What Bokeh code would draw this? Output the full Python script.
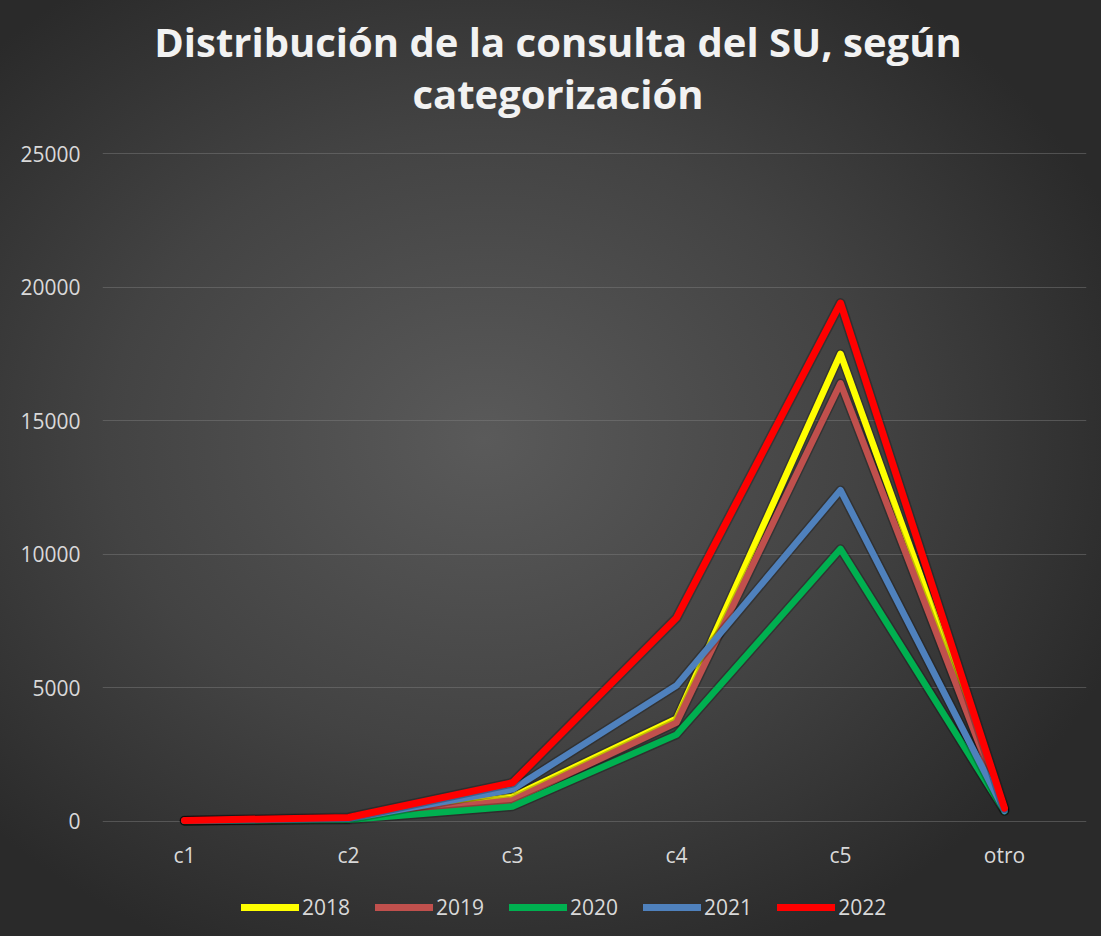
from bokeh.plotting import figure
from bokeh.layouts import column
from bokeh.models import Range1d, FactorRange, Legend, LegendItem, FixedTicker
from bokeh.core.properties import value
from bokeh.embed import file_html
from bokeh.resources import INLINE

categories = ["c1", "c2", "c3", "c4", "c5", "otro"]
years = ["2018", "2019", "2020", "2021", "2022"]
v2018 = [30, 110, 930, 3850, 17500, 450]
v2019 = [25, 100, 790, 3700, 16400, 420]
v2020 = [20, 60, 560, 3250, 10200, 380]
v2021 = [25, 100, 1200, 5090, 12400, 400]
v2022 = [40, 150, 1450, 7620, 19400, 500]
series = [v2018, v2019, v2020, v2021, v2022]
colors = ["#FFFF00", "#C0504D", "#00B050", "#4F81BD", "#FF0000"]
widths = [6.5, 6.5, 6.5, 6.5, 7]
y_ticks = [0, 5000, 10000, 15000, 20000, 25000]
title_lines = ["Distribución de la consulta del SU, según", "categorización"]

FONT = "Open Sans"
LABEL = "#d9d9d9"
W = 1101
BL, BR = 102, 15          # shared left / right borders so frames line up
FW = W - BL - BR
H_TITLE = 126
H_MAIN = 746
H_LEG = 64


def bare(fig):
    fig.title = None
    fig.background_fill_alpha = 0
    fig.border_fill_alpha = 0
    fig.outline_line_color = None
    fig.grid.visible = False


# ---- title strip ----
tf = figure(width=W, height=H_TITLE, output_backend="svg", toolbar_location=None,
            x_range=Range1d(0, FW), y_range=Range1d(H_TITLE, 0),
            x_axis_type=None, y_axis_type=None,
            min_border_left=BL, min_border_right=BR, min_border_top=0, min_border_bottom=0)
bare(tf)
tf.text(x=[557.5 - BL, 557.5 - BL], y=[41, 93], text=title_lines, text_align="center",
        text_baseline="alphabetic", text_font=value(FONT), text_font_style="bold",
        text_font_size="40px", text_color="#f2f2f2")

# ---- main chart ----
p = figure(width=W, height=H_MAIN, output_backend="svg", toolbar_location=None,
           x_range=FactorRange(*categories, range_padding=0),
           y_range=Range1d(-600, 25300),
           min_border_left=BL, min_border_right=BR, min_border_top=19, min_border_bottom=35)
p.title = None
p.background_fill_alpha = 0
p.border_fill_alpha = 0
p.outline_line_color = None

p.xgrid.grid_line_color = None
p.ygrid.grid_line_color = "#808080"
p.ygrid.grid_line_alpha = 0.45
p.ygrid.grid_line_width = 1

p.yaxis.ticker = FixedTicker(ticks=y_ticks)
for ax in (p.xaxis, p.yaxis):
    ax.axis_line_color = None
    ax.major_tick_line_color = None
    ax.minor_tick_line_color = None
    ax.major_tick_out = 0
    ax.major_tick_in = 0
    ax.major_label_text_font = FONT
    ax.major_label_text_font_size = "21px"
    ax.major_label_text_color = LABEL
p.yaxis.major_label_standoff = 22
p.xaxis.major_label_standoff = 3

for vals, c, w in zip(series, colors, widths):
    p.line(categories, vals, line_color="#000000", line_alpha=0.25, line_width=w + 3,
           line_join="round", line_cap="round")
    p.line(categories, vals, line_color=c, line_width=w, line_join="round", line_cap="round")

# ---- legend strip ----
lf = figure(width=W, height=H_LEG, output_backend="svg", toolbar_location=None,
            x_range=Range1d(0, FW), y_range=Range1d(0, H_LEG),
            x_axis_type=None, y_axis_type=None,
            min_border_left=BL, min_border_right=BR, min_border_top=0, min_border_bottom=0)
bare(lf)
items = []
for yr, c in zip(years, colors):
    r = lf.line([-20, -10], [-20, -10], line_color=c, line_width=7, line_cap="round")
    items.append(LegendItem(label=yr, renderers=[r]))
legend = Legend(items=items, orientation="horizontal", location=(241 - BL, 15),
                glyph_width=58, glyph_height=20, label_standoff=3, spacing=25,
                label_text_font=FONT, label_text_font_size="21px", label_text_color=LABEL,
                background_fill_alpha=0, border_line_color=None, margin=0, padding=4)
lf.add_layout(legend, "center")

layout = column(tf, p, lf, spacing=0)
layout.styles = {"background": "radial-gradient(ellipse 62% 60% at 44% 47%, #5a5a5a 0%, #434343 55%, #2a2a2a 100%)"}

open("out.html", "w").write(file_html(layout, INLINE))
